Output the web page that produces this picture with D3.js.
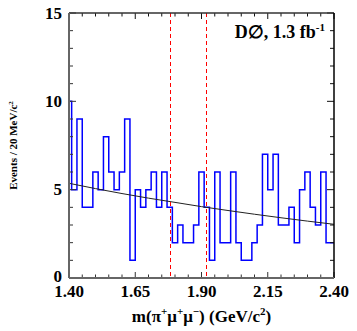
<!DOCTYPE html>
<html>
<head>
<meta charset="utf-8">
<script src="https://cdn.jsdelivr.net/npm/d3@7"></script>
<style>
  body { margin: 0; background: #fff; }
  text { font-family: "Liberation Serif", "Times New Roman", serif; font-weight: bold; }
</style>
</head>
<body>
<div id="paper"></div>
<script>
// bin centres (GeV/c^2), 20 MeV bins, edge bins are half shown
var binCenters = [1.40, 1.42, 1.44, 1.46, 1.48, 1.50, 1.52, 1.54, 1.56, 1.58,
  1.60, 1.62, 1.64, 1.66, 1.68, 1.70, 1.72, 1.74, 1.76, 1.78,
  1.80, 1.82, 1.84, 1.86, 1.88, 1.90, 1.92, 1.94, 1.96, 1.98,
  2.00, 2.02, 2.04, 2.06, 2.08, 2.10, 2.12, 2.14, 2.16, 2.18,
  2.20, 2.22, 2.24, 2.26, 2.28, 2.30, 2.32, 2.34, 2.36, 2.38, 2.40]
var counts = [10, 5, 9, 4, 4, 6, 5, 8, 6, 5,
  6, 9, 1, 5, 4, 5, 6, 4, 6, 4,
  2, 3, 2, 2, 3, 6, 4, 1, 6, 2,
  2, 6, 2, 1, 1, 2, 3, 7, 5, 7,
  3, 3, 4, 2, 5, 6, 4, 3, 6, 2, 2]

// background fit
var fitX = [1.40, 1.50, 1.60, 1.70, 1.80, 1.90, 2.00, 2.10, 2.20, 2.30, 2.40]
var fitY = [5.36, 5.06, 4.78, 4.52, 4.28, 4.04, 3.82, 3.61, 3.41, 3.22, 3.04]

// signal window
var windowEdges = [1.786, 1.922]

var xLabels = [1.40, 1.65, 1.90, 2.15, 2.40]
var yLabels = [0, 5, 10, 15]

var width = 357, height = 331
var margin = {top: 13, right: 23, bottom: 53, left: 69}
var w = width - margin.left - margin.right
var h = height - margin.top - margin.bottom

var svg = d3.select('#paper').append('svg')
    .attr('width', width)
    .attr('height', height)

var g = svg.append('g').attr('transform', 'translate(' + margin.left + ',' + margin.top + ')')

var x = d3.scaleLinear().domain([1.40, 2.40]).range([0, w])
var y = d3.scaleLinear().domain([0, 15]).range([h, 0])

// histogram as a step outline
var pts = []
binCenters.forEach(function(c, i) {
    var x0 = Math.max(1.40, c - 0.01), x1 = Math.min(2.40, c + 0.01)
    pts.push([x0, counts[i]])
    pts.push([x1, counts[i]])
})
g.append('path')
    .datum(pts)
    .attr('fill', 'none')
    .attr('stroke', '#0000ff')
    .attr('stroke-width', 1.5)
    .attr('d', d3.line().x(function(d) { return x(d[0]) }).y(function(d) { return y(d[1]) }))

// fit curve
g.append('path')
    .datum(fitX.map(function(v, i) { return [v, fitY[i]] }))
    .attr('fill', 'none')
    .attr('stroke', '#222')
    .attr('stroke-width', 1)
    .attr('d', d3.line().curve(d3.curveMonotoneX).x(function(d) { return x(d[0]) }).y(function(d) { return y(d[1]) }))

// dashed window lines (snapped to the pixel grid so they stay bright red)
g.selectAll('.win')
    .data(windowEdges)
    .join('line')
    .attr('x1', function(d) { return Math.round(x(d)) - 0.5 })
    .attr('x2', function(d) { return Math.round(x(d)) - 0.5 })
    .attr('y1', 0)
    .attr('y2', h)
    .attr('stroke', '#ff0000')
    .attr('stroke-width', 1)
    .attr('stroke-dasharray', '4,3')

// ticks, all inside, on four sides
var xMinor = d3.range(0, 21).map(function(i) { return 1.40 + i * 0.05 })
var yMinor = d3.range(0, 16)

function isMajorX(v) { return Math.abs(((v - 1.40) / 0.25) - Math.round((v - 1.40) / 0.25)) < 1e-6 }

g.selectAll('.tb')
    .data(xMinor)
    .join('line')
    .attr('x1', function(d) { return x(d) })
    .attr('x2', function(d) { return x(d) })
    .attr('y1', h)
    .attr('y2', function(d) { return h - (isMajorX(d) ? 6 : 3.5) })
    .attr('stroke', '#333')
    .attr('stroke-width', 1)
g.selectAll('.tt')
    .data(xMinor)
    .join('line')
    .attr('x1', function(d) { return x(d) })
    .attr('x2', function(d) { return x(d) })
    .attr('y1', 0)
    .attr('y2', function(d) { return isMajorX(d) ? 6 : 3.5 })
    .attr('stroke', '#111')
    .attr('stroke-width', 1)
g.selectAll('.tl')
    .data(yMinor)
    .join('line')
    .attr('x1', 0)
    .attr('x2', function(d) { return d % 5 == 0 ? 7 : 4 })
    .attr('y1', function(d) { return y(d) })
    .attr('y2', function(d) { return y(d) })
    .attr('stroke', '#333')
    .attr('stroke-width', 1)
g.selectAll('.tr')
    .data(yMinor)
    .join('line')
    .attr('x1', w)
    .attr('x2', function(d) { return w - (d % 5 == 0 ? 7 : 4) })
    .attr('y1', function(d) { return y(d) })
    .attr('y2', function(d) { return y(d) })
    .attr('stroke', '#111')
    .attr('stroke-width', 1)

// frame
g.append('line').attr('x1', 0).attr('x2', w).attr('y1', 0).attr('y2', 0).attr('stroke', '#333').attr('stroke-width', 1.5)
g.append('line').attr('x1', w).attr('x2', w).attr('y1', 0).attr('y2', h).attr('stroke', '#000').attr('stroke-width', 1.5)
g.append('line').attr('x1', 0).attr('x2', w).attr('y1', h).attr('y2', h).attr('stroke', '#666').attr('stroke-width', 2)
g.append('line').attr('x1', 0).attr('x2', 0).attr('y1', 0).attr('y2', h).attr('stroke', '#666').attr('stroke-width', 2)

// tick labels
g.selectAll('.xl')
    .data(xLabels)
    .join('text')
    .attr('x', function(d) { return x(d) })
    .attr('y', h + 19)
    .attr('text-anchor', 'middle')
    .style('font-size', '17px')
    .text(function(d) { return d.toFixed(2) })
g.selectAll('.yl')
    .data(yLabels)
    .join('text')
    .attr('x', -7)
    .attr('y', function(d) { return y(d) + (d == 0 ? 3.5 : 5.5) })
    .attr('text-anchor', 'end')
    .style('font-size', '17px')
    .text(function(d) { return d })

// x title
var xt = g.append('text')
    .attr('x', w / 2)
    .attr('y', h + 44)
    .attr('text-anchor', 'middle')
    .style('font-size', '17px')
xt.append('tspan').text('m(π')
xt.append('tspan').attr('dy', -7).style('font-size', '11px').text('+')
xt.append('tspan').attr('dy', 7).text('μ')
xt.append('tspan').attr('dy', -7).style('font-size', '11px').text('+')
xt.append('tspan').attr('dy', 7).text('μ')
xt.append('tspan').attr('dy', -7).style('font-size', '11px').text('−')
xt.append('tspan').attr('dy', 7).text(') (GeV/c')
xt.append('tspan').attr('dy', -7).style('font-size', '11px').text('2')
xt.append('tspan').attr('dy', 7).text(')')

// y title
var yt = svg.append('text')
    .attr('transform', 'translate(17,' + (margin.top + h / 2) + ') rotate(-90)')
    .attr('text-anchor', 'middle')
    .style('font-size', '11px')
yt.append('tspan').text('Events / 20 MeV/c')
yt.append('tspan').attr('dy', -4).style('font-size', '7px').text('2')

// experiment label
var lab = g.append('text')
    .attr('x', w - 9)
    .attr('y', 25)
    .attr('text-anchor', 'end')
    .style('font-size', '18px')
lab.append('tspan').text('D∅, 1.3 fb')
lab.append('tspan').attr('dy', -7).style('font-size', '11px').text('-1')
</script>
</body>
</html>
